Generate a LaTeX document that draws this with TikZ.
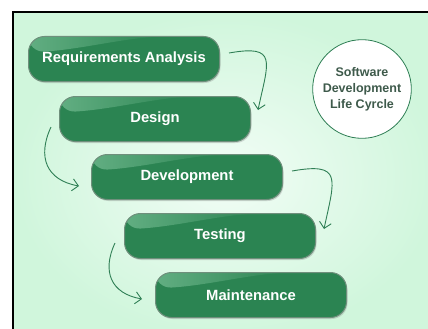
\documentclass[tikz,border=0pt]{standalone}
\usepackage{fontspec}
\setmainfont{Liberation Sans}
\usetikzlibrary{arrows.meta,shadows}
\tikzset{>={Straight Barb[length=6pt,width=12pt]}}

\definecolor{boxgreen}{HTML}{2B8452}
\definecolor{boxhi}{HTML}{62AE82}
\definecolor{boxedge}{HTML}{6F8F7C}
\definecolor{mintout}{HTML}{D0F6DC}
\definecolor{mintin}{HTML}{F2FDF6}
\definecolor{circtext}{HTML}{3E5A4B}
\definecolor{arrowgreen}{HTML}{2F7F55}

\begin{document}
\begin{tikzpicture}[x=1pt,y=1pt,
  phase/.style={rounded corners=16pt, fill=boxgreen, draw=boxedge, line width=1pt,
    minimum width=191pt, minimum height=45pt, text=white,
    font=\fontsize{14.8}{16}\selectfont\bfseries,
    drop shadow={shadow xshift=1pt,shadow yshift=-1.5pt,opacity=0.3},
    path picture={
      \coordinate (nw) at (path picture bounding box.north west);
      \shade[left color=boxhi,right color=boxgreen]
        (nw) -- ([xshift=135pt]nw)
        .. controls ([xshift=90pt,yshift=-3pt]nw) and ([xshift=50pt,yshift=-13pt]nw)
        .. ([yshift=-16pt]nw) -- cycle;}},
  flow/.style={->,arrowgreen,line width=0.9pt}]
  \useasboundingbox (0,0) rectangle (428,-329);
  \clip (0,0) rectangle (428,-329);

  % frame and background
  \shade[inner color=mintin,outer color=mintout] (13,-12) rectangle (440,-340);
  \draw[line width=1.5pt] (13,-340) -- (13,-12) -- (440,-12);

  % phases
  \node[phase] (req) at (124,-59) {Requirements Analysis};
  \node[phase] (design) at (155,-119) {Design};
  \node[phase] (dev) at (187,-177) {Development};
  \node[phase] (test) at (220,-236) {Testing};
  \node[phase] (maint) at (251,-295) {Maintenance};

  \node[circle, draw=arrowgreen, fill=white, line width=0.8pt, minimum size=88pt,
        align=center, text=circtext, font=\fontsize{12.5}{16}\selectfont\bfseries]
        (sdlc) at (362,-89) {Software\\Development\\Life Cyrcle};

  % arrows between phases
  \draw[flow] ([xshift=9pt,yshift=6pt]req.east) to[out=10,in=78,looseness=2]
              ([xshift=7pt,yshift=-14pt]design.north east);
  \draw[flow] ([xshift=-8pt,yshift=-8pt]design.west) to[out=-115,in=170,looseness=1.3]
              ([xshift=-12pt,yshift=-9pt]dev.west);
  \draw[flow] ([xshift=9pt,yshift=6pt]dev.east) to[out=10,in=78,looseness=2]
              ([xshift=8pt,yshift=-16pt]test.north east);
  \draw[flow] ([xshift=-9pt,yshift=-7pt]test.west) to[out=-115,in=170,looseness=1.3]
              ([xshift=-13pt,yshift=-4pt]maint.west);
\end{tikzpicture}
\end{document}
